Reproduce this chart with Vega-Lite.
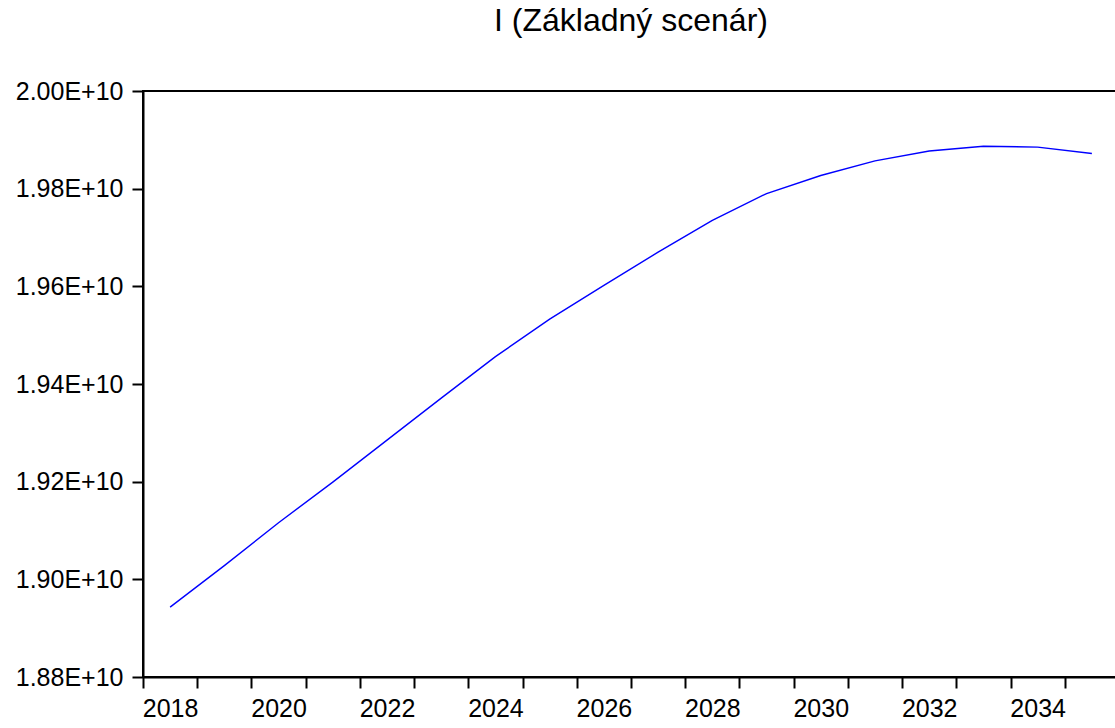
{
  "$schema": "https://vega.github.io/schema/vega-lite/v6.json",
  "autosize": "none",
  "padding": {"left": 143, "top": 91, "right": 0, "bottom": 51},
  "width": 976,
  "height": 586,
  "background": "white",
  "title": {
    "text": "I (Základný scenár)",
    "font": "Liberation Sans",
    "fontSize": 32,
    "fontWeight": "normal",
    "color": "black",
    "anchor": "middle",
    "baseline": "bottom",
    "offset": 9
  },
  "config": {
    "view": {"stroke": "black", "strokeWidth": 2},
    "axis": {
      "labelFont": "Liberation Sans",
      "labelFontSize": 25,
      "labelColor": "black",
      "domainColor": "black",
      "domainWidth": 2,
      "tickColor": "black",
      "tickWidth": 2,
      "tickSize": 11,
      "grid": false,
      "title": null
    }
  },
  "data": {
    "values": [
      {"year": 2018, "I": 18943000000},
      {"year": 2019, "I": 19028000000},
      {"year": 2020, "I": 19116000000},
      {"year": 2021, "I": 19199000000},
      {"year": 2022, "I": 19285000000},
      {"year": 2023, "I": 19371000000},
      {"year": 2024, "I": 19456000000},
      {"year": 2025, "I": 19533000000},
      {"year": 2026, "I": 19602000000},
      {"year": 2027, "I": 19670000000},
      {"year": 2028, "I": 19735000000},
      {"year": 2029, "I": 19790000000},
      {"year": 2030, "I": 19827000000},
      {"year": 2031, "I": 19857000000},
      {"year": 2032, "I": 19877000000},
      {"year": 2033, "I": 19887000000},
      {"year": 2034, "I": 19885000000},
      {"year": 2035, "I": 19872000000}
    ]
  },
  "mark": {"type": "line", "color": "#0000FF", "strokeWidth": 1.4, "clip": true},
  "encoding": {
    "x": {
      "field": "year",
      "type": "ordinal",
      "sort": "ascending",
      "scale": {"paddingInner": 0, "paddingOuter": 0, "align": 0},
      "axis": {
        "labelAngle": 0,
        "tickBand": "extent",
        "labelPadding": 8,
        "labelExpr": "datum.value % 2 == 0 ? datum.value : ''"
      }
    },
    "y": {
      "field": "I",
      "type": "quantitative",
      "scale": {"domain": [18800000000, 20000000000], "nice": false, "zero": false},
      "axis": {
        "values": [18800000000, 19000000000, 19200000000, 19400000000, 19600000000, 19800000000, 20000000000],
        "labelPadding": 9,
        "labelExpr": "replace(format(datum.value, '.2e'), 'e', 'E')"
      }
    }
  }
}
